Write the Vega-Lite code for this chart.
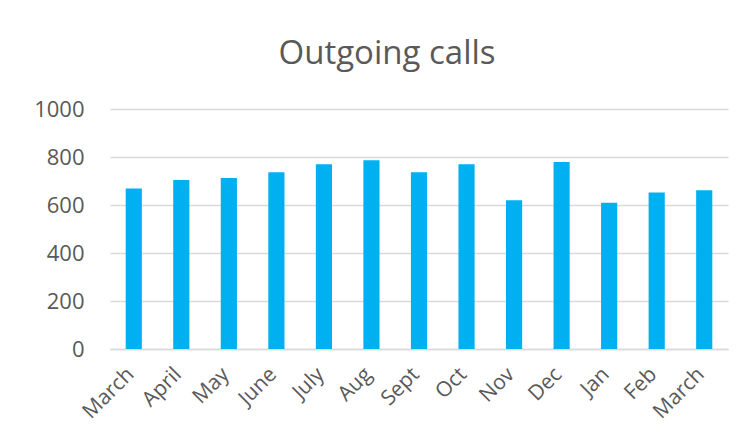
{
  "$schema": "https://vega.github.io/schema/vega-lite/v6.json",
  "autosize": "none",
  "width": 618,
  "height": 240,
  "padding": {"left": 110, "top": 109, "right": 24, "bottom": 89},
  "background": "white",
  "title": {
    "text": "Outgoing calls",
    "font": "Open Sans",
    "fontSize": 33,
    "fontWeight": "normal",
    "color": "#595959",
    "baseline": "alphabetic",
    "offset": 1,
    "dx": -32
  },
  "data": {
    "values": [
      {"month": "March", "calls": 669},
      {"month": "April", "calls": 704},
      {"month": "May", "calls": 712},
      {"month": "June", "calls": 736},
      {"month": "July", "calls": 770},
      {"month": "Aug", "calls": 786},
      {"month": "Sept", "calls": 736},
      {"month": "Oct", "calls": 770},
      {"month": "Nov", "calls": 620},
      {"month": "Dec", "calls": 779},
      {"month": "Jan", "calls": 609},
      {"month": "Feb", "calls": 652},
      {"month": "March\u200b", "calls": 661}
    ]
  },
  "mark": {"type": "bar", "color": "#00B0F0"},
  "encoding": {
    "x": {
      "field": "month",
      "type": "nominal",
      "sort": null,
      "scale": {"paddingInner": 0.66, "paddingOuter": 0.33},
      "axis": {
        "title": null,
        "labelAngle": -45,
        "labelAlign": "right",
        "labelBaseline": "middle",
        "labelFont": "Open Sans",
        "labelFontSize": 21,
        "labelColor": "#595959",
        "labelOffset": -3,
        "ticks": false,
        "domainColor": "#d9d9d9",
        "domainWidth": 1.5,
        "labelPadding": 22
      }
    },
    "y": {
      "field": "calls",
      "type": "quantitative",
      "scale": {"domain": [0, 1000]},
      "axis": {
        "title": null,
        "values": [0, 200, 400, 600, 800, 1000],
        "format": "d",
        "labelFont": "Open Sans",
        "labelFontSize": 22,
        "labelColor": "#595959",
        "ticks": false,
        "domain": false,
        "gridColor": "#d9d9d9",
        "gridWidth": 1.5,
        "labelPadding": 26
      }
    }
  },
  "config": {"view": {"stroke": null}}
}
